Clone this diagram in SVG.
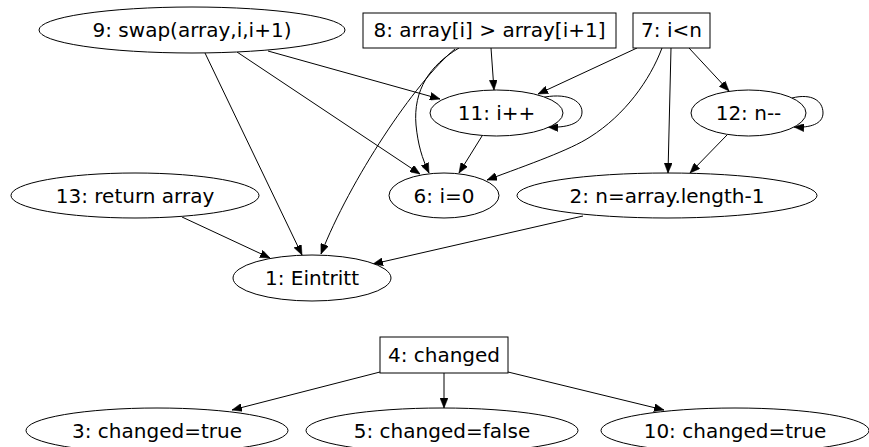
<svg xmlns="http://www.w3.org/2000/svg" width="869" height="447" viewBox="0 0 869 447">
<style>
.n ellipse, .n rect { fill: #fff; stroke: #000; stroke-width: 1; }
.n text { font-family: "DejaVu Sans", sans-serif; font-size: 20px; text-anchor: middle; fill: #000; }
#edges path { fill: none; stroke: #000; stroke-width: 1; marker-end: url(#ah); }
</style>
<defs>
<marker id="ah" markerUnits="userSpaceOnUse" viewBox="0 0 10 8" refX="10" refY="4" markerWidth="10" markerHeight="8" orient="auto">
<path d="M0,0 L10,4 L0,8 z" fill="#000" stroke="#000" stroke-width="0.5"/>
</marker>
</defs>
<rect x="0" y="0" width="869" height="447" fill="#fff"/>
<g id="edges">
<path d="M268,51 L440,99"/>
<path d="M237,52 L420,174"/>
<path d="M205,53 L302,255"/>
<path d="M491,48 L494,90"/>
<path d="M459,48 C430,65 413,90 416,125 C418,145 422,158 429,173"/>
<path d="M455,49 C415,82 350,180 321,254"/>
<path d="M637,48 L538,94"/>
<path d="M662,48 C650,80 625,115 590,137 C570,150 530,164 487,180"/>
<path d="M671,48 L668,173"/>
<path d="M689,48 L729,91"/>
<path d="M727,135 L690,173"/>
<path d="M482,136 L459,173"/>
<path d="M182,217 L270,258"/>
<path d="M583,216 L373,264"/>
<path d="M540,98 C566,92 582,100 582,112 C582,124 566,128 548,127"/>
<path d="M792,98 C812,93 823,101 823,113 C823,124 810,128 794,127"/>
<path d="M380,372 L232,410"/>
<path d="M444,373 L444,408"/>
<path d="M508,372 L664,410"/>
</g>
<g id="n9" class="n"><ellipse cx="192" cy="30" rx="153" ry="23"/><text x="192" y="37">9: swap(array,i,i+1)</text></g>
<g id="n8" class="n"><rect x="363" y="13" width="253" height="35"/><text x="489.5" y="37">8: array[i] &gt; array[i+1]</text></g>
<g id="n7" class="n"><rect x="633" y="13" width="77" height="35"/><text x="671.5" y="37">7: i&lt;n</text></g>
<g id="n11" class="n"><ellipse cx="496.5" cy="113" rx="66.5" ry="23"/><text x="496.5" y="120">11: i++</text></g>
<g id="n12" class="n"><ellipse cx="748.5" cy="113" rx="57.5" ry="23"/><text x="748.5" y="120">12: n--</text></g>
<g id="n13" class="n"><ellipse cx="135" cy="195.5" rx="124" ry="22.5"/><text x="135" y="202.5">13: return array</text></g>
<g id="n6" class="n"><ellipse cx="444" cy="195.5" rx="55" ry="22.5"/><text x="444" y="202.5">6: i=0</text></g>
<g id="n2" class="n"><ellipse cx="667" cy="195.5" rx="150" ry="22.5"/><text x="667" y="202.5">2: n=array.length-1</text></g>
<g id="n1" class="n"><ellipse cx="312" cy="278" rx="79" ry="23"/><text x="312" y="285">1: Eintritt</text></g>
<g id="n4" class="n"><rect x="380" y="337" width="128" height="36"/><text x="444" y="362">4: changed</text></g>
<g id="n3" class="n"><ellipse cx="157" cy="430.5" rx="131" ry="22.5"/><text x="157" y="437.5">3: changed=true</text></g>
<g id="n5" class="n"><ellipse cx="442" cy="430.5" rx="136" ry="22.5"/><text x="442" y="437.5">5: changed=false</text></g>
<g id="n10" class="n"><ellipse cx="735" cy="430.5" rx="134" ry="22.5"/><text x="735" y="437.5">10: changed=true</text></g>
</svg>
